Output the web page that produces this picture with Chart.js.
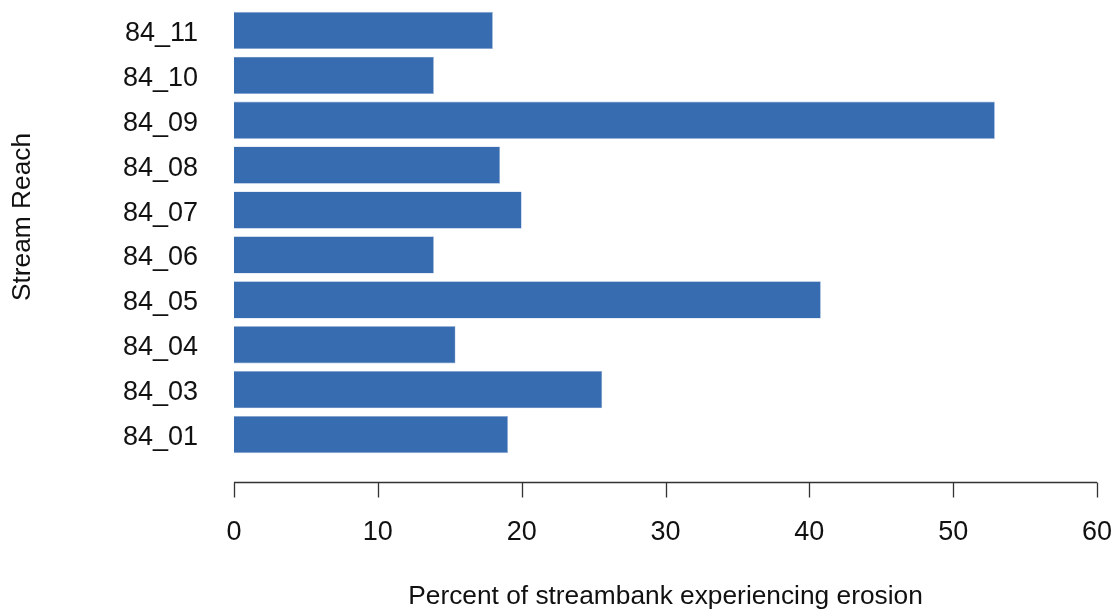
<!DOCTYPE html>
<html>
<head>
<meta charset="utf-8">
<title>Streambank erosion by stream reach</title>
<script src="https://cdn.jsdelivr.net/npm/chart.js@4"></script>
<style>
  html, body { margin: 0; padding: 0; background: #fff; }
  #wrap { width: 1113px; height: 609px; position: relative; }
</style>
</head>
<body>
<div id="wrap"><canvas id="erosion-chart" width="1113" height="609"></canvas></div>
<script>
// reaches listed bottom to top, as in the figure
const reaches = ['84_01', '84_03', '84_04', '84_05', '84_06', '84_07', '84_08', '84_09', '84_10', '84_11'];
const erosionPct = [19.05, 25.6, 15.4, 40.8, 13.9, 20.0, 18.5, 52.9, 13.9, 18.0];
const xTicks = [0, 10, 20, 30, 40, 50, 60];

const barColor = '#386cb0';
const textColor = '#111';
const fontFamily = '"Liberation Sans", Arial, sans-serif';

// R-style detached x axis: line + ticks drawn a bit below the plot area
const detachedAxis = {
  id: 'detachedAxis',
  afterDraw(chart) {
    const x = chart.scales.x;
    const ctx = chart.ctx;
    const y = Math.round(chart.chartArea.bottom + 25) + 0.5;
    ctx.save();
    ctx.strokeStyle = '#333';
    ctx.lineWidth = 1.3;
    ctx.beginPath();
    ctx.moveTo(x.getPixelForValue(xTicks[0]), y);
    ctx.lineTo(x.getPixelForValue(xTicks[xTicks.length - 1]), y);
    xTicks.forEach(v => {
      const px = Math.round(x.getPixelForValue(v)) + 0.5;
      ctx.moveTo(px, y);
      ctx.lineTo(px, y + 15);
    });
    ctx.stroke();

    // y axis title, placed a little above the plot centre like the original
    ctx.fillStyle = textColor;
    ctx.font = '26.3px ' + fontFamily;
    ctx.textAlign = 'center';
    ctx.textBaseline = 'middle';
    ctx.translate(23, 217);
    ctx.rotate(-Math.PI / 2);
    ctx.fillText('Stream Reach', 0, 0);
    ctx.restore();
  }
};

// keep the label padding from eating into the plot area
function noEdgePadding(scale) {
  scale.paddingTop = 0;
  scale.paddingBottom = 0;
  scale.paddingLeft = 0;
  scale.paddingRight = 0;
}

new Chart(document.getElementById('erosion-chart'), {
  type: 'bar',
  data: {
    labels: reaches,
    datasets: [{
      data: erosionPct,
      backgroundColor: barColor,
      borderColor: 'rgba(140,170,215,0.8)',
      borderWidth: 0.6,
      barPercentage: 1,
      categoryPercentage: 0.83
    }]
  },
  options: {
    indexAxis: 'y',
    responsive: false,
    animation: false,
    layout: { padding: { top: 8, right: 16, left: 0, bottom: 0 } },
    plugins: {
      legend: { display: false },
      tooltip: { enabled: false }
    },
    scales: {
      x: {
        min: 0,
        max: 60,
        afterFit(scale) { scale.height = 152; noEdgePadding(scale); },
        afterBuildTicks(scale) { scale.ticks = xTicks.map(v => ({ value: v })); },
        grid: { display: false, drawTicks: false },
        border: { display: false },
        ticks: {
          padding: 59,
          color: textColor,
          font: { family: fontFamily, size: 27 },
          maxRotation: 0
        },
        title: {
          display: true,
          text: 'Percent of streambank experiencing erosion',
          color: textColor,
          font: { family: fontFamily, size: 26.3 },
          padding: { top: 0, bottom: -4 }
        }
      },
      y: {
        reverse: true,
        afterFit(scale) { scale.width = 234; noEdgePadding(scale); },
        grid: { display: false, drawTicks: false },
        border: { display: false },
        ticks: {
          padding: 36,
          labelOffset: 3,
          color: textColor,
          font: { family: fontFamily, size: 27 }
        },
        title: { display: false }
      }
    }
  },
  plugins: [detachedAxis]
});
</script>
</body>
</html>
